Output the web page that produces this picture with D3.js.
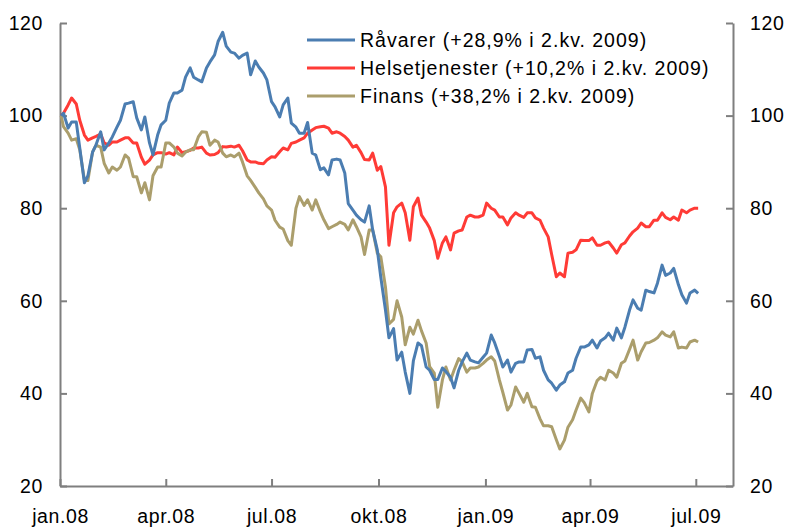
<!DOCTYPE html>
<html><head><meta charset="utf-8">
<script src="https://cdn.jsdelivr.net/npm/d3@7"></script>
<style>body{margin:0;background:#fff}svg{display:block}</style>
</head><body>
<svg id="c" width="788" height="532"></svg>
<script>
const dates = [
"2008-01-02","2008-01-04","2008-01-08","2008-01-11","2008-01-15","2008-01-18","2008-01-22","2008-01-25","2008-01-29","2008-02-01",
"2008-02-05","2008-02-08","2008-02-12","2008-02-15","2008-02-19","2008-02-22","2008-02-26","2008-02-29","2008-03-04","2008-03-07",
"2008-03-11","2008-03-14","2008-03-18","2008-03-21","2008-03-25","2008-03-28","2008-04-01","2008-04-04","2008-04-08","2008-04-11",
"2008-04-15","2008-04-18","2008-04-22","2008-04-25","2008-04-29","2008-05-02","2008-05-06","2008-05-09","2008-05-13","2008-05-16",
"2008-05-20","2008-05-23","2008-05-27","2008-05-30","2008-06-03","2008-06-06","2008-06-10","2008-06-13","2008-06-17","2008-06-20",
"2008-06-24","2008-06-27","2008-07-01","2008-07-04","2008-07-08","2008-07-11","2008-07-15","2008-07-18","2008-07-22","2008-07-25",
"2008-07-29","2008-08-01","2008-08-05","2008-08-08","2008-08-12","2008-08-15","2008-08-19","2008-08-22","2008-08-26","2008-08-29",
"2008-09-02","2008-09-05","2008-09-09","2008-09-12","2008-09-16","2008-09-19","2008-09-23","2008-09-26","2008-09-30","2008-10-03",
"2008-10-07","2008-10-10","2008-10-14","2008-10-17","2008-10-21","2008-10-24","2008-10-28","2008-10-31","2008-11-04","2008-11-07",
"2008-11-11","2008-11-14","2008-11-18","2008-11-21","2008-11-25","2008-11-28","2008-12-02","2008-12-05","2008-12-09","2008-12-12",
"2008-12-16","2008-12-19","2008-12-23","2008-12-26","2008-12-30","2009-01-02","2009-01-06","2009-01-09","2009-01-13","2009-01-16",
"2009-01-20","2009-01-23","2009-01-27","2009-01-30","2009-02-03","2009-02-06","2009-02-10","2009-02-13","2009-02-17","2009-02-20",
"2009-02-24","2009-02-27","2009-03-03","2009-03-06","2009-03-10","2009-03-13","2009-03-17","2009-03-20","2009-03-24","2009-03-27",
"2009-03-31","2009-04-03","2009-04-07","2009-04-10","2009-04-14","2009-04-17","2009-04-21","2009-04-24","2009-04-28","2009-05-01",
"2009-05-05","2009-05-08","2009-05-12","2009-05-15","2009-05-19","2009-05-22","2009-05-26","2009-05-29","2009-06-02","2009-06-05",
"2009-06-09","2009-06-12","2009-06-16","2009-06-19","2009-06-23","2009-06-26","2009-06-30","2009-07-03"];

const raavarer = [
100,100.5, 97.3,98.6, 98.6,93, 85.5,87, 92.1,93.7,
96.5,92.6, 94.1,95.4, 97.5,99, 102.5,102.7, 103,99.5,
96.9,99.7, 94.1,91.5, 95.8,98, 99,102.7, 104.9,104.9,
105.5,108.3, 110.3,108.3, 107.7,107.3, 110.3,111.6, 113.1,116,
118,115, 113.7,113.5, 112.4,113, 113.5,108.8, 111.8,110.5,
109.2,107.7, 103,101.9, 99.7,102.3, 103.8,98.4, 97.5,96.2,
96.2,98.5, 91.9,91.5, 88.3,88.7, 87.2,90.4, 90.6,90.4,
87.6,81, 79.6,78.5, 77.5,77, 80.5,75.3, 71,65.1,
58,52, 54,47.2, 48.9,44.6, 40,47, 50.9,50.3,
45.7,45, 43,43, 45.5,44.7, 43.5,41.2, 45,46.8,
48.7,47.2, 46.8,46.6, 47.8,48.7, 52.6,50.9, 48,45.7,
47.2,44.6, 46.5,46.8, 46.8,49.4, 49.5,47.6, 47.9,45,
42.9,42.2, 40.7,41.8, 42.5,44.4, 45,47.6, 50,50,
50.5,51.5, 49.8,51.3, 52,53, 51.5,54.1, 52,54.3,
58,60.2, 58.4,58, 62.3,62, 61.7,63.8, 67.7,65.5,
66,67, 63.5,61.3, 59.5,61.7, 62.3,61.6];

const helse = [
100,100.5, 102.3,103.8, 102.5,99, 95.8,94.7, 95.2,95.5,
96,94.1, 93.6,94.3, 94.3,94.7, 95.2,95.2, 94.1,94.1,
91,89.5, 90.4,91.5, 92,92, 91.7,92, 91.5,93.2,
92,92.2, 92.5,93, 93,93.2, 91.9,91.5, 91.6,92,
93.3,93.2, 93.4,93.2, 93.6,92.4, 90.4,90, 90,89.7,
89.6,90.4, 91.1,91, 92.2,93, 92.6,94, 94.3,94.7,
95.2,96.2, 96.9,97.4, 97.6,97.7, 97.3,96.2, 96.5,96.2,
95.5,94.7, 93.2,93.6, 92,90.5, 90.4,91.9, 88.2,89,
84.6,72, 79,80.3, 81.1,79, 73.1,80.3, 82.2,78.5,
77,75.7, 73,69.2, 72.5,73.8, 71,74.6, 75.1,75.3,
78.1,78.5, 78.1,78.1, 78.5,81.1, 80,79.6, 78.1,78.1,
76.4,77.9, 79,78.5, 78,79, 79,77.9, 77.4,75.7,
73.8,70, 65.2,66, 65.2,70.3, 70.5,71, 73.1,73,
73,73.6, 72,72, 72.5,72.7, 71.4,70.3, 72.1,72.5,
74,74.9, 75.7,76.8, 76,76, 77.4,77.4, 79,78,
77.5,78.1, 77.4,79.6, 79,79.6, 80,80];

const finans = [
100,97.6, 96.2,94.7, 95,92.6, 86.1,86, 92.1,93.6,
93.2,89.7, 87.6,88.9, 88.2,88.9, 91.5,90.8, 86.8,86.8,
83.3,85.5, 81.8,87, 88.9,88.9, 94.1,94.1, 93.2,91.9,
91.3,92.1, 92.6,92.6, 95.4,96.5, 96.4,93.6, 94.7,94.3,
91.9,91.1, 91.5,91.1, 91.9,90, 87,86, 84.5,83.3,
82,80.5, 79.6,77.4, 75.9,75.5, 73,72, 80,82.5,
80.6,81.8, 79.6,81.8, 79.2,77.5, 75.6,76, 76.5,77,
76.5,75.3, 77.5,76, 73.8,70, 75.3,75.3, 70.3,69.5,
63,55, 56,60, 56.5,50.5, 54.3,52.8, 55.8,53.5,
50.9,45.8, 44.4,37, 42.9,45.7, 42.9,45, 47.5,46.8,
44.6,45.5, 45.5,45.7, 46.5,47.2, 47.9,47, 42.9,40.2,
36.4,37.5, 41.4,40, 38.1,40, 37.1,37, 34.5,33,
33,32.8, 30,28, 29.9,32.7, 34.3,36.4, 39,38,
36,40, 42.7,43.5, 42.9,45, 44.4,43.5, 46.5,47,
49.5,51.5, 47.2,49, 50.9,51, 51.5,52, 53.3,52.6,
52.2,53.3, 49.8,50, 49.8,51.1, 51.5,51.1];

const seriesNames = ["Råvarer (+28,9% i 2.kv. 2009)","Helsetjenester (+10,2% i 2.kv. 2009)","Finans (+38,2% i 2.kv. 2009)"];
const seriesColors = ["#4b7db1","#ff3b36","#ab9e6c"];
const xTickDates = ["2008-01-01","2008-04-01","2008-07-01","2008-10-01","2009-01-01","2009-04-01","2009-07-01"];
const xTickLabels = ["jan.08","apr.08","jul.08","okt.08","jan.09","apr.09","jul.09"];
const yTicks = [20,40,60,80,100,120];

const parse = d3.utcParse("%Y-%m-%d");
const svg = d3.select("#c");
const x = d3.scaleUtc().domain([parse("2008-01-01"), parse("2009-08-02")]).range([60, 733]);
const y = d3.scaleLinear().domain([20,120]).range([486, 23]);
const font = "'Liberation Sans', Arial, sans-serif";
const axisColor = "#7f7f7f";

function styleAxis(g){
  g.select(".domain").attr("stroke", axisColor).attr("stroke-width", 2);
  g.selectAll(".tick line").attr("stroke", axisColor).attr("stroke-width", 2);
  g.selectAll(".tick text").attr("fill", "#000").style("font-family", font)
    .style("font-size", "19.5px").style("letter-spacing","0.6px");
}

svg.append("g").attr("transform","translate(60,0)")
  .call(d3.axisLeft(y).tickValues(yTicks).tickSizeInner(-7).tickSizeOuter(0).tickPadding(17))
  .call(styleAxis);
svg.append("g").attr("transform","translate(733,0)")
  .call(d3.axisRight(y).tickValues(yTicks).tickSizeInner(-7).tickSizeOuter(0).tickPadding(17))
  .call(styleAxis);
svg.append("g").attr("transform","translate(0,486)")
  .call(d3.axisBottom(x).tickValues(xTickDates.map(parse)).tickFormat((d,i)=>xTickLabels[i]).tickSizeInner(-7).tickSizeOuter(0).tickPadding(23))
  .call(styleAxis);

const allSeries = [raavarer, helse, finans];
const line = d3.line().x((d,i)=>x(parse(dates[i]))).y(d=>y(d));
[1,2,0].forEach(s=>{
  svg.append("path").datum(allSeries[s]).attr("d", line)
    .attr("fill","none").attr("stroke", seriesColors[s]).attr("stroke-width",3).attr("stroke-linejoin","round");
});

const leg = svg.append("g");
seriesNames.forEach((n,i)=>{
  const yy = 40 + i*28;
  leg.append("line").attr("x1",307).attr("x2",355).attr("y1",yy).attr("y2",yy)
    .attr("stroke",seriesColors[i]).attr("stroke-width",3);
  leg.append("text").attr("x",360).attr("y",yy).attr("dy","0.35em").text(n)
    .style("font-family",font).style("font-size","19.5px").style("letter-spacing","1px").attr("fill","#000");
});
</script>
</body></html>
